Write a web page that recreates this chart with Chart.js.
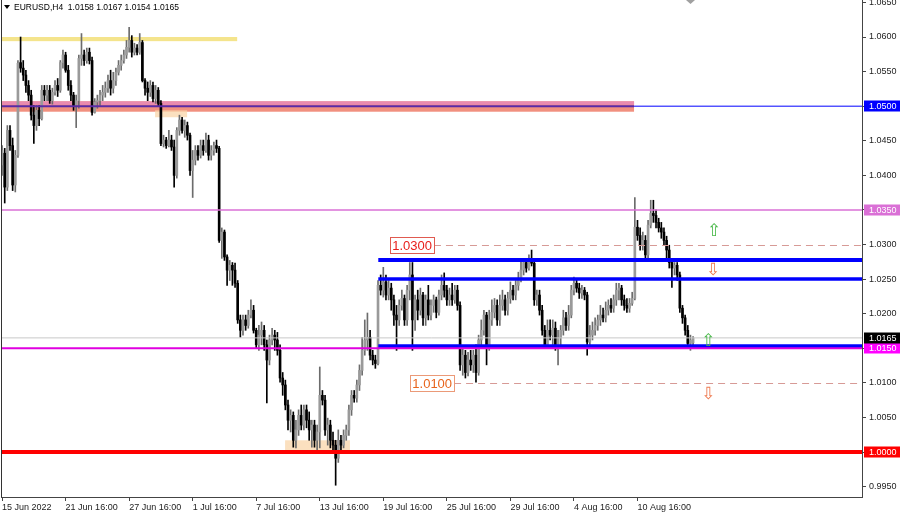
<!DOCTYPE html>
<html>
<head>
<meta charset="utf-8">
<title>EURUSD,H4</title>
<script src="https://cdn.jsdelivr.net/npm/chart.js@4.4.1/dist/chart.umd.min.js"></script>
<style>
    html, body { margin: 0; padding: 0; background: #fff; }
    #wrap { width: 900px; height: 515px; }
</style>
</head>
<body>
<div id="wrap"><canvas id="chart" width="900" height="515"></canvas></div>
<script>
// H4 candles, bar 0 = 15 Jun 2022
const opens = [
    1.0415,1.0432,1.0383,1.0465,1.0443,1.0386,1.0429,1.0563,1.0555,1.0545,
    1.0530,1.0516,1.0487,1.0472,1.0494,1.0482,1.0523,1.0516,1.0523,1.0508,
    1.0520,1.0530,1.0523,1.0563,1.0574,1.0552,1.0530,1.0516,1.0501,1.0508,
    1.0569,1.0574,1.0566,1.0578,1.0566,1.0491,1.0506,1.0508,1.0516,1.0520,
    1.0526,1.0537,1.0526,1.0537,1.0549,1.0559,1.0566,1.0574,1.0585,1.0595,
    1.0578,1.0584,1.0578,1.0592,1.0537,1.0526,1.0520,1.0530,1.0511,1.0523,
    1.0504,1.0446,1.0451,1.0443,1.0451,1.0441,1.0400,1.0465,1.0480,1.0465,
    1.0472,1.0458,1.0407,1.0422,1.0436,1.0429,1.0443,1.0436,1.0451,1.0429,
    1.0436,1.0443,1.0439,1.0306,1.0318,1.0282,1.0263,1.0270,1.0263,1.0244,
    1.0191,1.0176,1.0191,1.0183,1.0198,1.0205,1.0176,1.0155,1.0169,1.0176,
    1.0155,1.0133,1.0162,1.0169,1.0162,1.0147,1.0107,1.0097,1.0068,1.0046,
    1.0053,1.0017,1.0032,1.0053,1.0039,1.0061,1.0046,1.0032,1.0039,1.0017,
    1.0029,1.0082,1.0075,1.0032,1.0039,1.0017,1.0010,0.9991,1.0017,1.0010,
    1.0024,1.0032,1.0061,1.0082,1.0078,1.0097,1.0118,1.0147,1.0162,1.0166,
    1.0140,1.0133,1.0128,1.0241,1.0234,1.0246,1.0227,1.0237,1.0220,1.0198,
    1.0191,1.0212,1.0222,1.0191,1.0234,1.0256,1.0191,1.0220,1.0205,1.0227,
    1.0194,1.0220,1.0198,1.0212,1.0220,1.0202,1.0227,1.0241,1.0234,1.0220,
    1.0227,1.0220,1.0234,1.0212,1.0126,1.0140,1.0115,1.0133,1.0126,1.0140,
    1.0115,1.0162,1.0176,1.0198,1.0155,1.0191,1.0202,1.0212,1.0191,1.0212,
    1.0220,1.0205,1.0222,1.0234,1.0227,1.0241,1.0251,1.0263,1.0274,1.0266,
    1.0280,1.0273,1.0220,1.0227,1.0205,1.0176,1.0155,1.0176,1.0169,1.0179,
    1.0155,1.0165,1.0176,1.0194,1.0183,1.0198,1.0234,1.0244,1.0237,1.0230,
    1.0234,1.0227,1.0159,1.0169,1.0176,1.0183,1.0191,1.0198,1.0194,1.0205,
    1.0212,1.0208,1.0220,1.0234,1.0237,1.0220,1.0212,1.0208,1.0215,1.0222,
    1.0325,1.0313,1.0299,1.0306,1.0285,1.0328,1.0345,1.0342,1.0332,1.0324,
    1.0318,1.0306,1.0292,1.0274,1.0266,1.0270,1.0256,1.0208,1.0194,1.0176,
    1.0157,1.0158
];
const highs = [
    1.0443,1.0439,1.0472,1.0472,1.0454,1.0436,1.0566,1.0600,1.0566,1.0552,
    1.0537,1.0523,1.0501,1.0501,1.0501,1.0530,1.0530,1.0530,1.0530,1.0526,
    1.0537,1.0540,1.0566,1.0581,1.0578,1.0559,1.0537,1.0520,1.0516,1.0574,
    1.0605,1.0581,1.0584,1.0584,1.0571,1.0511,1.0516,1.0523,1.0530,1.0535,
    1.0545,1.0552,1.0549,1.0555,1.0566,1.0574,1.0581,1.0595,1.0614,1.0602,
    1.0591,1.0589,1.0605,1.0595,1.0540,1.0535,1.0537,1.0535,1.0530,1.0527,
    1.0508,1.0458,1.0455,1.0465,1.0458,1.0451,1.0469,1.0487,1.0484,1.0480,
    1.0477,1.0461,1.0436,1.0443,1.0443,1.0451,1.0451,1.0461,1.0458,1.0443,
    1.0448,1.0451,1.0442,1.0324,1.0321,1.0285,1.0277,1.0274,1.0273,1.0248,
    1.0198,1.0198,1.0198,1.0205,1.0220,1.0212,1.0179,1.0183,1.0188,1.0183,
    1.0162,1.0169,1.0179,1.0176,1.0173,1.0155,1.0115,1.0104,1.0075,1.0061,
    1.0058,1.0046,1.0061,1.0068,1.0068,1.0068,1.0058,1.0046,1.0046,1.0039,
    1.0123,1.0089,1.0082,1.0049,1.0046,1.0029,1.0017,1.0032,1.0024,1.0032,
    1.0039,1.0068,1.0089,1.0089,1.0104,1.0126,1.0166,1.0191,1.0201,1.0176,
    1.0147,1.0140,1.0248,1.0256,1.0267,1.0256,1.0248,1.0244,1.0227,1.0212,
    1.0220,1.0234,1.0227,1.0241,1.0274,1.0274,1.0227,1.0234,1.0237,1.0231,
    1.0227,1.0241,1.0220,1.0227,1.0224,1.0234,1.0256,1.0259,1.0241,1.0237,
    1.0244,1.0241,1.0241,1.0217,1.0150,1.0147,1.0144,1.0147,1.0147,1.0155,
    1.0169,1.0191,1.0205,1.0202,1.0205,1.0220,1.0222,1.0220,1.0227,1.0234,
    1.0227,1.0231,1.0246,1.0241,1.0248,1.0260,1.0277,1.0280,1.0280,1.0285,
    1.0292,1.0280,1.0234,1.0234,1.0212,1.0183,1.0191,1.0191,1.0191,1.0188,
    1.0176,1.0183,1.0205,1.0202,1.0212,1.0241,1.0253,1.0251,1.0244,1.0241,
    1.0238,1.0231,1.0183,1.0188,1.0194,1.0198,1.0212,1.0208,1.0217,1.0220,
    1.0222,1.0227,1.0244,1.0244,1.0241,1.0227,1.0222,1.0222,1.0231,1.0368,
    1.0335,1.0324,1.0318,1.0313,1.0335,1.0364,1.0364,1.0350,1.0338,1.0332,
    1.0324,1.0312,1.0299,1.0280,1.0274,1.0274,1.0260,1.0212,1.0198,1.0183,
    1.0169,1.0167
];
const lows = [
    1.0400,1.0360,1.0378,1.0436,1.0378,1.0376,1.0426,1.0549,1.0537,1.0520,
    1.0508,1.0480,1.0446,1.0465,1.0472,1.0480,1.0508,1.0508,1.0504,1.0503,
    1.0516,1.0514,1.0520,1.0555,1.0549,1.0523,1.0508,1.0494,1.0469,1.0497,
    1.0559,1.0559,1.0562,1.0561,1.0487,1.0490,1.0497,1.0501,1.0508,1.0513,
    1.0520,1.0516,1.0519,1.0530,1.0545,1.0552,1.0562,1.0569,1.0578,1.0571,
    1.0574,1.0574,1.0575,1.0535,1.0516,1.0508,1.0514,1.0506,1.0504,1.0501,
    1.0443,1.0441,1.0439,1.0441,1.0436,1.0383,1.0396,1.0458,1.0461,1.0455,
    1.0451,1.0400,1.0368,1.0415,1.0422,1.0425,1.0429,1.0433,1.0422,1.0422,
    1.0429,1.0433,1.0303,1.0280,1.0277,1.0241,1.0248,1.0241,1.0238,1.0186,
    1.0166,1.0169,1.0176,1.0179,1.0194,1.0172,1.0150,1.0147,1.0155,1.0147,
    1.0071,1.0126,1.0155,1.0147,1.0140,1.0101,1.0082,1.0061,1.0032,1.0029,
    1.0007,1.0006,1.0024,1.0032,1.0032,1.0035,1.0017,1.0007,1.0007,1.0003,
    1.0006,1.0068,1.0024,1.0010,1.0006,1.0000,0.9952,0.9985,1.0003,1.0006,
    1.0017,1.0024,1.0053,1.0072,1.0072,1.0089,1.0111,1.0140,1.0147,1.0133,
    1.0126,1.0121,1.0126,1.0227,1.0224,1.0220,1.0220,1.0205,1.0183,1.0147,
    1.0183,1.0205,1.0183,1.0183,1.0220,1.0147,1.0176,1.0191,1.0198,1.0183,
    1.0183,1.0191,1.0191,1.0202,1.0194,1.0198,1.0220,1.0224,1.0212,1.0212,
    1.0212,1.0215,1.0205,1.0118,1.0111,1.0107,1.0110,1.0118,1.0115,1.0101,
    1.0111,1.0155,1.0169,1.0126,1.0147,1.0183,1.0194,1.0183,1.0183,1.0205,
    1.0198,1.0198,1.0215,1.0220,1.0220,1.0234,1.0246,1.0256,1.0260,1.0263,
    1.0269,1.0212,1.0212,1.0198,1.0169,1.0150,1.0150,1.0162,1.0155,1.0147,
    1.0126,1.0155,1.0169,1.0176,1.0176,1.0194,1.0227,1.0231,1.0222,1.0222,
    1.0220,1.0140,1.0155,1.0162,1.0169,1.0176,1.0183,1.0188,1.0188,1.0198,
    1.0202,1.0202,1.0212,1.0220,1.0212,1.0205,1.0202,1.0202,1.0212,1.0220,
    1.0306,1.0292,1.0292,1.0280,1.0280,1.0324,1.0332,1.0324,1.0318,1.0309,
    1.0299,1.0280,1.0266,1.0238,1.0256,1.0248,1.0202,1.0186,1.0169,1.0152,
    1.0147,1.0154
];
const closes = [
    1.0436,1.0383,1.0465,1.0443,1.0386,1.0429,1.0562,1.0555,1.0545,1.0530,
    1.0516,1.0487,1.0472,1.0494,1.0482,1.0523,1.0516,1.0523,1.0508,1.0520,
    1.0530,1.0523,1.0563,1.0574,1.0552,1.0530,1.0516,1.0501,1.0508,1.0569,
    1.0574,1.0566,1.0578,1.0566,1.0491,1.0506,1.0508,1.0516,1.0520,1.0526,
    1.0537,1.0526,1.0537,1.0549,1.0559,1.0566,1.0574,1.0585,1.0595,1.0578,
    1.0584,1.0578,1.0592,1.0537,1.0526,1.0520,1.0530,1.0511,1.0523,1.0504,
    1.0446,1.0451,1.0443,1.0451,1.0441,1.0400,1.0465,1.0480,1.0465,1.0472,
    1.0458,1.0407,1.0422,1.0436,1.0429,1.0443,1.0436,1.0451,1.0429,1.0436,
    1.0443,1.0439,1.0306,1.0318,1.0282,1.0263,1.0270,1.0263,1.0244,1.0191,
    1.0176,1.0191,1.0183,1.0198,1.0205,1.0176,1.0155,1.0169,1.0176,1.0155,
    1.0133,1.0162,1.0169,1.0162,1.0147,1.0107,1.0097,1.0068,1.0046,1.0053,
    1.0017,1.0032,1.0053,1.0039,1.0061,1.0046,1.0032,1.0039,1.0017,1.0029,
    1.0082,1.0075,1.0032,1.0039,1.0017,1.0010,0.9991,1.0017,1.0010,1.0024,
    1.0032,1.0061,1.0082,1.0078,1.0097,1.0118,1.0147,1.0162,1.0166,1.0140,
    1.0133,1.0128,1.0241,1.0234,1.0246,1.0227,1.0237,1.0220,1.0198,1.0191,
    1.0212,1.0222,1.0191,1.0234,1.0256,1.0191,1.0220,1.0205,1.0227,1.0194,
    1.0220,1.0198,1.0212,1.0220,1.0202,1.0227,1.0241,1.0234,1.0220,1.0227,
    1.0220,1.0234,1.0212,1.0126,1.0140,1.0115,1.0133,1.0126,1.0140,1.0115,
    1.0162,1.0176,1.0198,1.0155,1.0191,1.0202,1.0212,1.0191,1.0212,1.0220,
    1.0205,1.0222,1.0234,1.0227,1.0241,1.0251,1.0263,1.0274,1.0266,1.0280,
    1.0273,1.0220,1.0227,1.0205,1.0176,1.0155,1.0176,1.0169,1.0179,1.0155,
    1.0165,1.0176,1.0194,1.0183,1.0198,1.0234,1.0244,1.0237,1.0230,1.0234,
    1.0227,1.0159,1.0169,1.0176,1.0183,1.0191,1.0198,1.0194,1.0205,1.0212,
    1.0208,1.0220,1.0234,1.0237,1.0220,1.0212,1.0208,1.0215,1.0222,1.0325,
    1.0313,1.0299,1.0306,1.0285,1.0328,1.0345,1.0342,1.0332,1.0324,1.0318,
    1.0306,1.0292,1.0274,1.0266,1.0270,1.0256,1.0208,1.0194,1.0176,1.0157,
    1.0162,1.0165
];

// x axis: bar index of each time label
const xTickBars = [0, 24, 48, 72, 96, 120, 144, 168, 192, 216, 240];
const xTickLabels = ['15 Jun 2022', '21 Jun 16:00', '27 Jun 16:00', '1 Jul 16:00', '7 Jul 16:00',
    '13 Jul 16:00', '19 Jul 16:00', '25 Jul 16:00', '29 Jul 16:00', '4 Aug 16:00', '10 Aug 16:00'];
const yTicks = [0.9950, 1.0000, 1.0050, 1.0100, 1.0150, 1.0200, 1.0250, 1.0300,
    1.0350, 1.0400, 1.0450, 1.0500, 1.0550, 1.0600, 1.0650];

// drawn objects (bar index / price)
const zones = [
    { from: null, to: 88.8, top: 1.0600, bottom: 1.0594, color: '#f4e48c' },
    { from: null, to: 238.7, top: 1.0507, bottom: 1.0492, color: '#f1907f' },
    { from: null, to: 238.7, top: 1.0507, bottom: 1.0502, color: '#e98ab0' },
    { from: 57.8, to: 69.9, top: 1.0494, bottom: 1.0484, color: 'rgba(250,214,170,0.75)' },
    { from: 106.9, to: 131.4, top: 1.0017, bottom: 1.0000, color: 'rgba(250,214,170,0.75)' }
];
const levels = [
    { price: 1.0165, from: null, color: '#c8c8c8', width: 1 },
    { price: 1.0350, from: null, color: '#da70d6', width: 1.5 },
    { price: 1.0500, from: null, to: 238.7, color: '#5a2aa8', width: 2 },
    { price: 1.0500, from: 238.7, color: '#0000ff', width: 1 },
    { price: 1.02775, from: 142.1, color: '#0000ff', width: 4 },
    { price: 1.0250, from: 142.1, color: '#0000ff', width: 3.5 },
    { price: 1.0153, from: 142.1, color: '#0000ff', width: 4 },
    { price: 1.0150, from: null, color: '#e000e0', width: 2 },
    { price: 1.0000, from: null, color: '#ff0000', width: 4 }
];
const tagLevels = [
    { price: 1.0300, at: 146.6, text: '1.0300', color: '#e8201c', border: '#e05a50' },
    { price: 1.0100, at: 154.2, text: '1.0100', color: '#e8641c', border: '#eb9a78' }
];
const arrows = [
    { bar: 268.9, price: 1.0318, up: true },
    { bar: 268.6, price: 1.0262, up: false },
    { bar: 266.8, price: 1.0160, up: true },
    { bar: 266.8, price: 1.0083, up: false }
];
const axisTags = [
    { price: 1.0500, bg: '#0000ff' },
    { price: 1.0350, bg: '#da70d6' },
    { price: 1.0150, bg: '#ff00ff' },
    { price: 1.0165, bg: '#000000' },
    { price: 1.0000, bg: '#ff0000' }
];

const FONT = 'Liberation Sans, Arial, sans-serif';
const bullBody = '#9a9a9a', bullWick = '#6c6c6c', bearColor = '#000000';
const last = closes.length - 1;

function noPadding(s) {
    s.paddingLeft = 0;
    s.paddingRight = 0;
    s.paddingTop = 0;
    s.paddingBottom = 0;
}

const overlay = {
    id: 'overlay',
    beforeDatasetsDraw(chart) {
        const { ctx, chartArea: a, scales: { x, y } } = chart;
        ctx.save();
        ctx.beginPath();
        ctx.rect(a.left, a.top, a.width, a.height);
        ctx.clip();
        zones.forEach(z => {
            const x1 = z.from == null ? a.left : x.getPixelForValue(z.from);
            const x2 = z.to == null ? a.right : x.getPixelForValue(z.to);
            const y1 = y.getPixelForValue(z.top);
            const y2 = y.getPixelForValue(z.bottom);
            ctx.fillStyle = z.color;
            ctx.fillRect(x1, y1, x2 - x1, y2 - y1);
        });
        ctx.restore();
    },
    afterDatasetsDraw(chart) {
        const { ctx, chartArea: a, scales: { x, y } } = chart;
        ctx.save();
        ctx.beginPath();
        ctx.rect(a.left, a.top, a.width, a.height);
        ctx.clip();

        levels.forEach(l => {
            const x1 = l.from == null ? a.left : x.getPixelForValue(l.from);
            const x2 = l.to == null ? a.right : x.getPixelForValue(l.to);
            const py = y.getPixelForValue(l.price);
            ctx.strokeStyle = l.color;
            ctx.lineWidth = l.width;
            ctx.beginPath();
            ctx.moveTo(x1, py);
            ctx.lineTo(x2, py);
            ctx.stroke();
        });

        // dashed levels with their price boxes
        ctx.font = '13px ' + FONT;
        tagLevels.forEach(t => {
            const py = Math.round(y.getPixelForValue(t.price)) + 0.5;
            const bx = x.getPixelForValue(t.at);
            const w = ctx.measureText(t.text).width + 4;
            ctx.strokeStyle = '#d79a96';
            ctx.lineWidth = 1;
            ctx.setLineDash([7, 5]);
            ctx.beginPath();
            ctx.moveTo(bx + w, py);
            ctx.lineTo(a.right, py);
            ctx.stroke();
            ctx.setLineDash([]);
            ctx.fillStyle = '#fff';
            ctx.fillRect(bx, py - 8, w, 16);
            ctx.strokeStyle = t.border;
            ctx.strokeRect(Math.round(bx) + 0.5, py - 8, Math.round(w), 16);
            ctx.fillStyle = t.color;
            ctx.textAlign = 'left';
            ctx.textBaseline = 'middle';
            ctx.fillText(t.text, bx + 2, py + 0.5);
        });

        ctx.font = '17px DejaVu Sans, sans-serif';
        ctx.textAlign = 'center';
        ctx.textBaseline = 'middle';
        arrows.forEach(r => {
            ctx.fillStyle = r.up ? '#48b848' : '#ee7a50';
            ctx.fillText(r.up ? '\u21E7' : '\u21E9', x.getPixelForValue(r.bar), y.getPixelForValue(r.price));
        });
        ctx.restore();
    },
    afterDraw(chart) {
        const { ctx, chartArea: a, scales: { y } } = chart;
        ctx.save();
        // left frame line
        ctx.strokeStyle = '#333';
        ctx.lineWidth = 1;
        ctx.beginPath();
        ctx.moveTo(a.left + 0.5, a.top);
        ctx.lineTo(a.left + 0.5, a.bottom);
        ctx.stroke();

        // price tags on the right axis
        ctx.font = '9px ' + FONT;
        ctx.textAlign = 'left';
        ctx.textBaseline = 'middle';
        axisTags.forEach(t => {
            const py = Math.round(y.getPixelForValue(t.price));
            ctx.fillStyle = t.bg;
            ctx.fillRect(a.right + 2, py - 5.5, 900 - a.right - 2, 11);
            ctx.fillStyle = '#fff';
            ctx.fillText(t.price.toFixed(4), a.right + 7, py + 0.5);
        });

        // symbol header
        ctx.fillStyle = '#000';
        ctx.beginPath();
        ctx.moveTo(a.left + 3, 5);
        ctx.lineTo(a.left + 9, 5);
        ctx.lineTo(a.left + 6, 9);
        ctx.closePath();
        ctx.fill();
        ctx.font = '8.5px ' + FONT;
        ctx.fillText('EURUSD,H4  ' + [opens[last], highs[last], lows[last], closes[last]]
            .map(v => v.toFixed(4)).join(' '), a.left + 13, 8);

        // chart shift marker
        ctx.fillStyle = '#a0a0a0';
        ctx.beginPath();
        ctx.moveTo(686, 0);
        ctx.lineTo(695, 0);
        ctx.lineTo(690.5, 4);
        ctx.closePath();
        ctx.fill();
        ctx.restore();
    }
};

const isUp = i => closes[i] >= opens[i];

new Chart(document.getElementById('chart'), {
    type: 'bar',
    data: {
        datasets: [
            {
                label: 'body',
                order: 0,
                data: opens.map((o, i) => ({ x: i, y: [o, closes[i]] })),
                backgroundColor: c => isUp(c.dataIndex) ? bullBody : bearColor,
                barThickness: 2,
                minBarLength: 1,
                grouped: false,
                borderWidth: 0
            },
            {
                label: 'wick',
                order: 1,
                data: lows.map((l, i) => ({ x: i, y: [l, highs[i]] })),
                backgroundColor: c => isUp(c.dataIndex) ? bullWick : bearColor,
                barThickness: 1,
                grouped: false,
                borderWidth: 0
            }
        ]
    },
    options: {
        responsive: false,
        animation: false,
        devicePixelRatio: 1,
        layout: { padding: { left: 1, top: 0, right: 0, bottom: 0 } },
        plugins: { legend: { display: false }, tooltip: { enabled: false } },
        scales: {
            x: {
                type: 'linear',
                position: 'bottom',
                offset: false,
                min: -0.4,
                max: 324.8,
                afterBuildTicks: s => { s.ticks = xTickBars.map(v => ({ value: v })); },
                afterFit: s => { s.height = 18; noPadding(s); },
                grid: { offset: false, drawOnChartArea: false, drawTicks: true, tickLength: 4, color: '#444' },
                border: { display: true, color: '#444' },
                ticks: {
                    autoSkip: false,
                    maxRotation: 0,
                    align: 'start',
                    padding: 1,
                    color: '#222',
                    font: { family: FONT, size: 9 },
                    callback: v => xTickLabels[xTickBars.indexOf(v)]
                }
            },
            y: {
                type: 'linear',
                position: 'right',
                min: 0.9935,
                max: 1.06535,
                afterBuildTicks: s => { s.ticks = yTicks.map(v => ({ value: v })); },
                afterFit: s => { s.width = 38; noPadding(s); },
                grid: { drawOnChartArea: false, drawTicks: true, tickLength: 4, color: '#444' },
                border: { display: true, color: '#444' },
                ticks: {
                    padding: 3,
                    color: '#222',
                    font: { family: FONT, size: 9 },
                    callback: v => v.toFixed(4)
                }
            }
        }
    },
    plugins: [overlay]
});
</script>
</body>
</html>
